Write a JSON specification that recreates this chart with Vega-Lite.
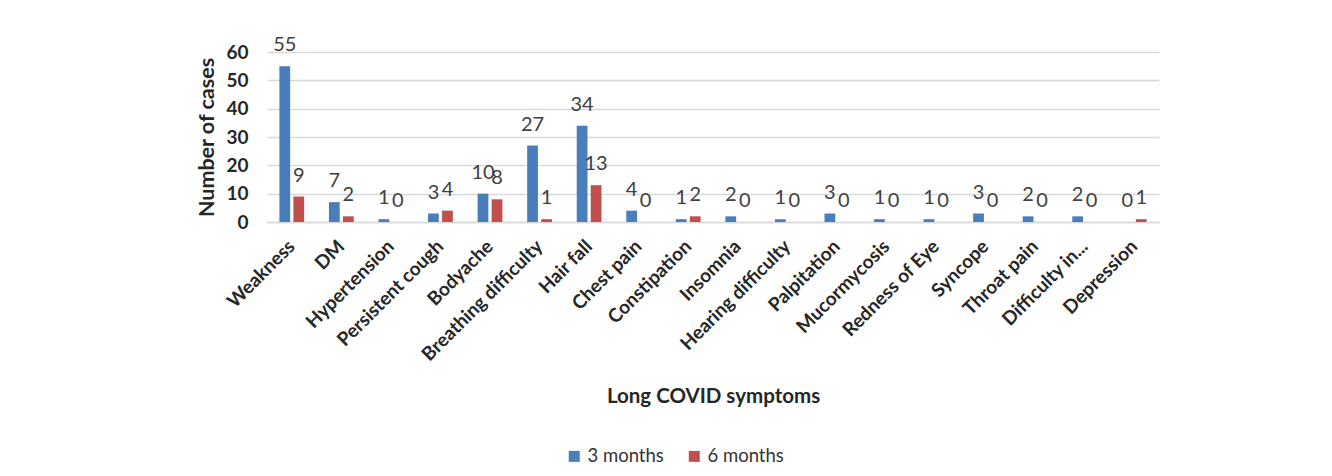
{
  "$schema": "https://vega.github.io/schema/vega-lite/v6.json",
  "autosize": "none",
  "width": 892,
  "height": 170,
  "padding": {"left": 267, "top": 52, "right": 173, "bottom": 254},
  "background": "white",
  "data": {
    "values": [
      {"symptom": "Weakness", "period": "3 months", "cases": 55},
      {"symptom": "Weakness", "period": "6 months", "cases": 9},
      {"symptom": "DM", "period": "3 months", "cases": 7},
      {"symptom": "DM", "period": "6 months", "cases": 2},
      {"symptom": "Hypertension", "period": "3 months", "cases": 1},
      {"symptom": "Hypertension", "period": "6 months", "cases": 0},
      {"symptom": "Persistent cough", "period": "3 months", "cases": 3},
      {"symptom": "Persistent cough", "period": "6 months", "cases": 4},
      {"symptom": "Bodyache", "period": "3 months", "cases": 10},
      {"symptom": "Bodyache", "period": "6 months", "cases": 8},
      {"symptom": "Breathing difficulty", "period": "3 months", "cases": 27},
      {"symptom": "Breathing difficulty", "period": "6 months", "cases": 1},
      {"symptom": "Hair fall", "period": "3 months", "cases": 34},
      {"symptom": "Hair fall", "period": "6 months", "cases": 13},
      {"symptom": "Chest pain", "period": "3 months", "cases": 4},
      {"symptom": "Chest pain", "period": "6 months", "cases": 0},
      {"symptom": "Constipation", "period": "3 months", "cases": 1},
      {"symptom": "Constipation", "period": "6 months", "cases": 2},
      {"symptom": "Insomnia", "period": "3 months", "cases": 2},
      {"symptom": "Insomnia", "period": "6 months", "cases": 0},
      {"symptom": "Hearing difficulty", "period": "3 months", "cases": 1},
      {"symptom": "Hearing difficulty", "period": "6 months", "cases": 0},
      {"symptom": "Palpitation", "period": "3 months", "cases": 3},
      {"symptom": "Palpitation", "period": "6 months", "cases": 0},
      {"symptom": "Mucormycosis", "period": "3 months", "cases": 1},
      {"symptom": "Mucormycosis", "period": "6 months", "cases": 0},
      {"symptom": "Redness of Eye", "period": "3 months", "cases": 1},
      {"symptom": "Redness of Eye", "period": "6 months", "cases": 0},
      {"symptom": "Syncope", "period": "3 months", "cases": 3},
      {"symptom": "Syncope", "period": "6 months", "cases": 0},
      {"symptom": "Throat pain", "period": "3 months", "cases": 2},
      {"symptom": "Throat pain", "period": "6 months", "cases": 0},
      {"symptom": "Difficulty in...", "period": "3 months", "cases": 2},
      {"symptom": "Difficulty in...", "period": "6 months", "cases": 0},
      {"symptom": "Depression", "period": "3 months", "cases": 0},
      {"symptom": "Depression", "period": "6 months", "cases": 1}
    ]
  },
  "encoding": {
    "x": {
      "field": "symptom",
      "type": "nominal",
      "sort": null,
      "scale": {"paddingInner": 0.5, "paddingOuter": 0.25},
      "axis": {
        "title": "Long COVID symptoms",
        "labelAngle": -45,
        "labelAlign": "right",
        "labelBaseline": "middle",
        "labelPadding": 21,
        "labelOffset": 0,
        "labelFont": "Lato",
        "labelFontWeight": "bold",
        "labelFontSize": 19,
        "labelColor": "#262626",
        "labelLimit": 300,
        "ticks": false,
        "domain": true,
        "domainColor": "#d9d9d9",
        "domainWidth": 1.5,
        "titleFont": "Lato",
        "titleFontWeight": "bold",
        "titleFontSize": 20.5,
        "titleColor": "#262626",
        "titleY": 174,
        "titleBaseline": "middle"
      }
    },
    "xOffset": {
      "field": "period",
      "type": "nominal",
      "scale": {"paddingInner": 0.23, "paddingOuter": 0}
    },
    "y": {
      "field": "cases",
      "type": "quantitative",
      "scale": {"domain": [0, 60], "nice": false},
      "axis": {
        "title": "Number of cases",
        "values": [0, 10, 20, 30, 40, 50, 60],
        "ticks": false,
        "domain": false,
        "grid": true,
        "gridColor": "#d9d9d9",
        "gridWidth": 1.5,
        "labelPadding": 19,
        "labelFont": "Lato",
        "labelFontWeight": "bold",
        "labelFontSize": 19,
        "labelColor": "#262626",
        "titleFont": "Lato",
        "titleFontWeight": "bold",
        "titleFontSize": 21.5,
        "titleColor": "#262626",
        "titleX": -60,
        "titleBaseline": "middle"
      }
    }
  },
  "layer": [
    {
      "mark": {"type": "bar"},
      "encoding": {
        "color": {
          "field": "period",
          "type": "nominal",
          "scale": {"domain": ["3 months", "6 months"], "range": ["#4a7ebb", "#c0504d"]},
          "legend": {
            "title": null,
            "orient": "none",
            "direction": "horizontal",
            "legendX": 298,
            "legendY": 395,
            "symbolType": "square",
            "symbolSize": 121,
            "symbolStrokeWidth": 0,
            "labelFont": "Lato",
            "labelFontSize": 18.5,
            "labelColor": "#333333",
            "labelOffset": 4,
            "columnPadding": 21
          }
        }
      }
    },
    {
      "mark": {
        "type": "text",
        "baseline": "middle",
        "dy": -21,
        "font": "Lato",
        "fontSize": 20,
        "color": "#404040"
      },
      "encoding": {
        "text": {"field": "cases", "type": "quantitative"}
      }
    }
  ],
  "config": {
    "view": {"stroke": null}
  }
}
